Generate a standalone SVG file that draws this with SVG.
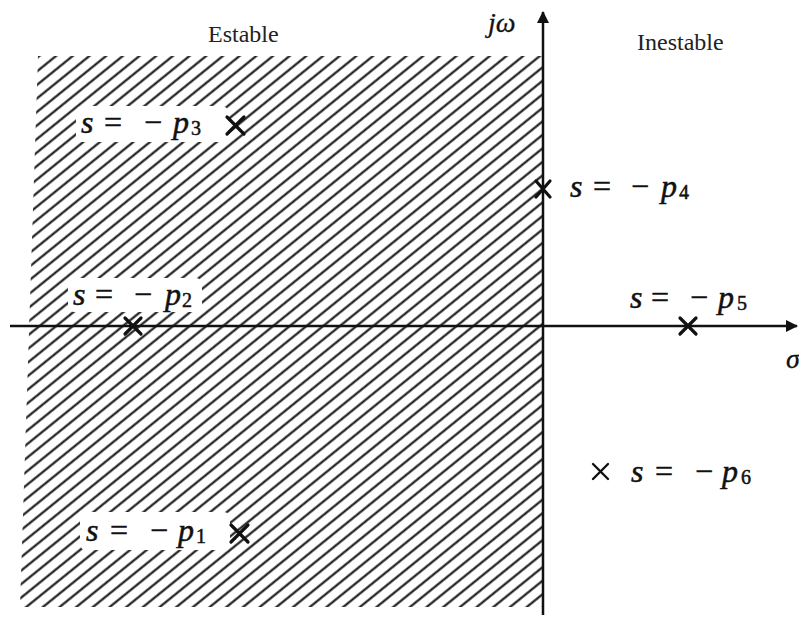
<svg xmlns="http://www.w3.org/2000/svg" width="799" height="619" viewBox="0 0 799 619">
<style>
.lbl{font-family:"Liberation Serif","Times New Roman",serif;font-size:32px;fill:#111;stroke:#111;stroke-width:0.5}
.it{font-style:italic}
.sub{font-size:20px}
.reg{font-family:"Liberation Serif","Times New Roman",serif;font-size:24px;fill:#222}
.x{stroke:#111;stroke-width:3.2;stroke-linecap:round}
.ax{stroke:#111;stroke-width:2.5;fill:none}
.bg{fill:#fff}
</style>
<defs>
<pattern id="hatch" patternUnits="userSpaceOnUse" width="12" height="10.5" patternTransform="rotate(-39)">
<line x1="0" y1="5.25" x2="12" y2="5.25" stroke="#111" stroke-width="2.1"/>
</pattern>
<marker id="arr" viewBox="0 0 12 12" refX="11" refY="6" markerWidth="12" markerHeight="12" markerUnits="userSpaceOnUse" orient="auto">
<path d="M0,0 L12,6 L0,12 Z" fill="#111"/>
</marker>
</defs>
<rect width="799" height="619" fill="#fff"/>
<g id="stable-region">
<polygon points="38,56 543,56 543,607 20,607" fill="url(#hatch)"/>
</g>
<g id="connectors">
<line class="ax" x1="10" y1="326" x2="797" y2="326" marker-end="url(#arr)"/>
<line class="ax" x1="543" y1="615" x2="543" y2="12" marker-end="url(#arr)"/>
</g>
<g id="titles">
<text class="reg" x="208" y="42">Estable</text>
<text class="reg" x="637" y="50">Inestable</text>
<text class="lbl it" x="488" y="32" style="font-size:28px;stroke-width:0.3">jω</text>
<text class="lbl it" x="786" y="368" style="font-size:28px;stroke-width:0.3">σ</text>
</g>
<g id="p3">
<rect class="bg" x="76" y="106" width="152" height="36" rx="6"/>
<text class="lbl"><tspan class="it" x="81" y="133">s</tspan><tspan x="104" y="133">=</tspan><tspan x="144" y="133">−</tspan><tspan class="it" x="173" y="133">p</tspan><tspan class="sub" x="191" y="135">3</tspan></text>
<path class="x" d="M227,117 L244,134 M244,117 L227,134"/>
</g>
<g id="p4">
<text class="lbl"><tspan class="it" x="570" y="197">s</tspan><tspan x="593" y="197">=</tspan><tspan x="631" y="197">−</tspan><tspan class="it" x="661" y="197">p</tspan><tspan class="sub" x="679" y="199">4</tspan></text>
<path class="x" d="M536,181 L550,197 M550,181 L536,197"/>
</g>
<g id="p2">
<rect class="bg" x="68" y="278" width="134" height="34" rx="6"/>
<text class="lbl"><tspan class="it" x="73" y="305">s</tspan><tspan x="95" y="305">=</tspan><tspan x="134" y="305">−</tspan><tspan class="it" x="165" y="305">p</tspan><tspan class="sub" x="182" y="307">2</tspan></text>
<path class="x" d="M125,318 L141,334 M141,318 L125,334"/>
</g>
<g id="p5">
<text class="lbl"><tspan class="it" x="630" y="308">s</tspan><tspan x="651" y="308">=</tspan><tspan x="690" y="308">−</tspan><tspan class="it" x="718" y="308">p</tspan><tspan class="sub" x="737" y="310">5</tspan></text>
<path class="x" d="M680,318 L696,334 M696,318 L680,334"/>
</g>
<g id="p6">
<path class="x" d="M593,464 L608,479 M608,464 L593,479" style="stroke-width:2.4"/>
<text class="lbl"><tspan class="it" x="631" y="482">s</tspan><tspan x="655" y="482">=</tspan><tspan x="695" y="482">−</tspan><tspan class="it" x="722" y="482">p</tspan><tspan class="sub" x="741" y="484">6</tspan></text>
</g>
<g id="p1">
<rect class="bg" x="80" y="512" width="150" height="38" rx="6"/>
<text class="lbl"><tspan class="it" x="86" y="541">s</tspan><tspan x="110" y="541">=</tspan><tspan x="150" y="541">−</tspan><tspan class="it" x="178" y="541">p</tspan><tspan class="sub" x="196" y="543">1</tspan></text>
<path class="x" d="M231,525 L248,542 M248,525 L231,542"/>
</g>
</svg>
